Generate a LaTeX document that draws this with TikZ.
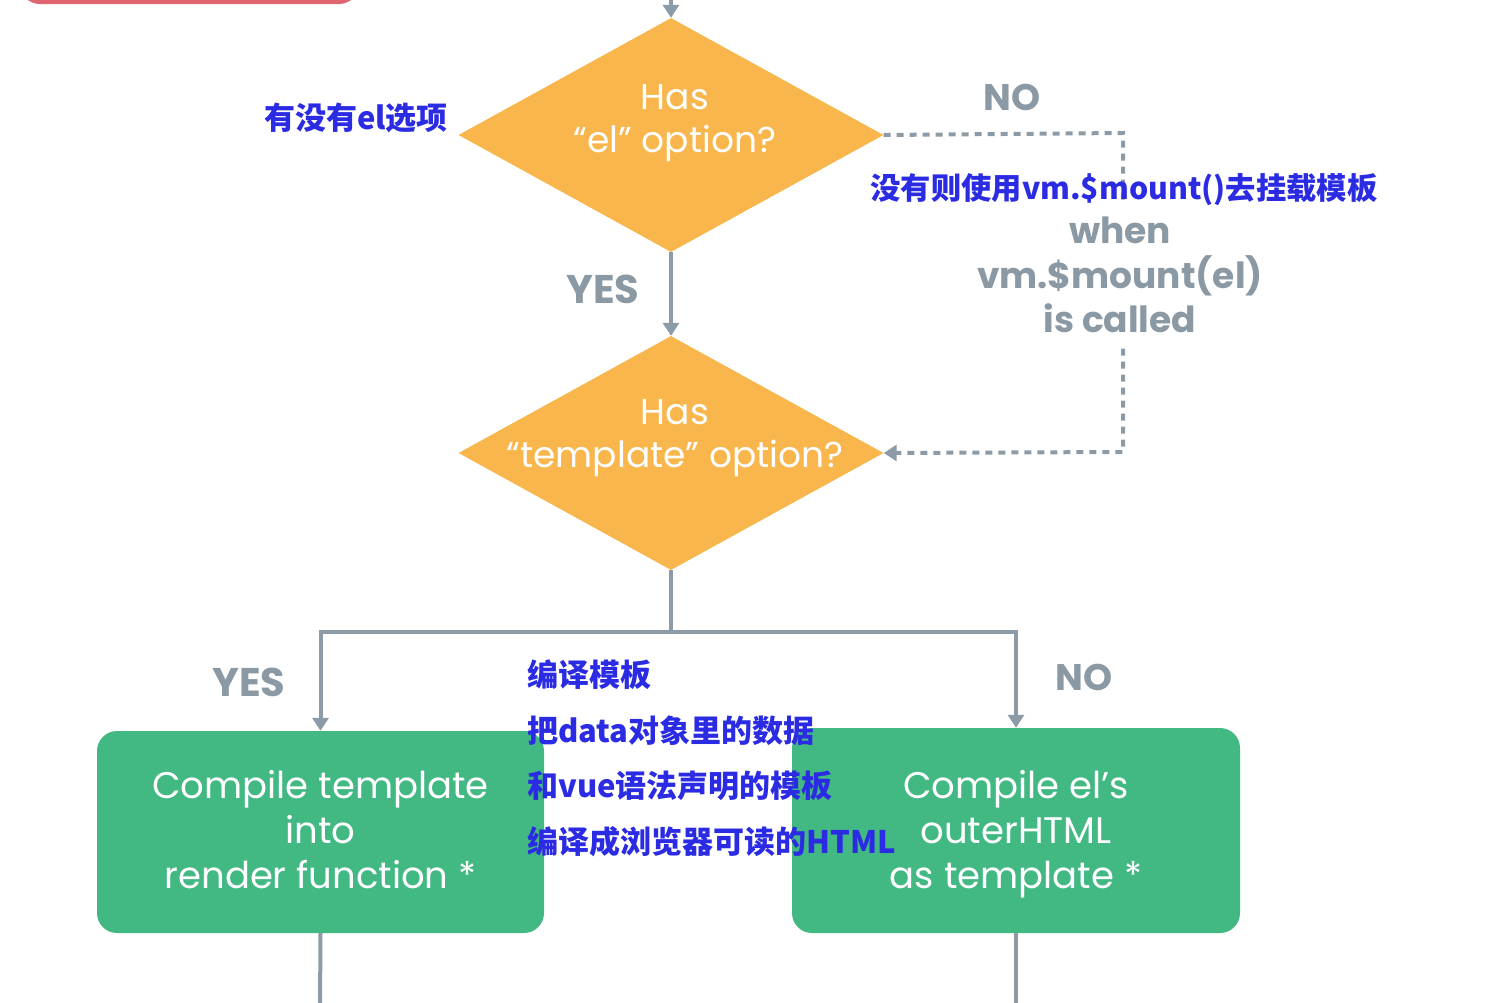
\documentclass[tikz,border=0pt]{standalone}
\usepackage{fontspec}
\setmainfont{Poppins}
\newfontfamily\cjk{Noto Sans CJK SC}
\usetikzlibrary{shapes.geometric,arrows.meta}
\definecolor{lineg}{HTML}{8C9BA6}
\definecolor{orng}{HTML}{F8B64C}
\definecolor{grn}{HTML}{42B883}
\definecolor{blu}{HTML}{2B2BE3}
\definecolor{redb}{HTML}{E06570}
\definecolor{lblg}{HTML}{8A99A4}
\begin{document}
\begin{tikzpicture}[x=1pt,y=-1pt,
 conn/.style={draw=lineg, line width=4pt, -{Triangle[width=16pt,length=13pt]}},
 plainline/.style={draw=lineg,line width=4pt},
 dashconn/.style={draw=lineg,line width=4pt,dash pattern=on 7pt off 6pt},
 decision/.style={diamond, fill=orng, shape aspect=1.816, minimum width=425pt, minimum height=234pt, inner sep=0pt},
 dtext/.style={text=white, font=\fontsize{36}{43}\selectfont, align=center, inner sep=0pt},
 process/.style={rectangle, rounded corners=20pt, fill=grn, text=white, font=\fontsize{37}{45}\selectfont, align=center, inner sep=0pt},
 glabel/.style={text=lblg, font=\bfseries\fontsize{36}{44.5}\selectfont, align=center, inner sep=0pt},
 note/.style={text=blu, font=\cjk\bfseries\fontsize{31}{36}\selectfont, inner sep=0pt},
]
\useasboundingbox (0,0) rectangle (1486,1002);

% partial start box
\node[draw=redb, line width=4pt, fill=white, rounded corners=18pt, minimum width=335pt, minimum height=60pt] (start) at (189.5,-28) {};

\coordinate (topin) at (671,-10);
\node[decision] (d1) at (671,135) {};
\node[decision] (d2) at (671,453) {};
\node[dtext] (t1) at (675,123.5) {Has\\“el” option?};
\node[dtext] (t2) at (675,438) {Has\\“template” option?};

\node[process, minimum width=447pt, minimum height=202pt] (b1) at (320.5,832) {};
\node[process, minimum width=448pt, minimum height=205pt] (b2) at (1016,830.5) {};
\node[process, fill=none] (bt1) at (320.5,830) {Compile template\\into\\render function *};
\node[process, fill=none] (bt2) at (1016,834.5) {Compile el’s\\outerHTML\\as template *};

\coordinate (split) at (671,632);
\coordinate (dr1) at (1123,133);
\coordinate (dr2) at (1123,452);
\coordinate (out1) at (320,1010);
\coordinate (out2) at (1016,1010);

\draw[conn] (topin) -- (d1.north);
\draw[conn] (d1.south) -- (d2.north);
\draw[dashconn, -{Triangle[width=16pt,length=13pt]}] (d1.east) -- (dr1) -- (dr2) -- (d2.east);
\draw[plainline] (d2.south) -- (split);
\draw[conn] (split) -| (b1.north);
\draw[conn] (split) -| (b2.north);
\draw[plainline] (b1.south) -- (out1);
\draw[plainline] (b2.south) -- (out2);

% gray labels
\node[glabel, font=\bfseries\fontsize{40}{44}\selectfont] (yes1) at (603,289) {YES};
\node[glabel, font=\bfseries\fontsize{37}{44}\selectfont] (no1) at (1012,97) {NO};
\node[glabel, font=\bfseries\fontsize{40}{44}\selectfont] (yes2) at (249,682) {YES};
\node[glabel, font=\bfseries\fontsize{37}{44}\selectfont] (no2) at (1084,677) {NO};
\node[glabel, fill=white, inner xsep=9pt, inner ysep=15pt] (when) at (1120,275) {when\\vm.\$mount(el)\\is called};

% blue notes
\node[note] (n1) at (356,118) {有没有el选项};
\node[note, font=\cjk\bfseries\fontsize{30.3}{36}\selectfont] (n2) at (1124,190) {没有则使用vm.\$mount()去挂载模板};
\node[note, anchor=west] (n3) at (527,675) {编译模板};
\node[note, anchor=west] (n4) at (527,731) {把data对象里的数据};
\node[note, anchor=west] (n5) at (527,786) {和vue语法声明的模板};
\node[note, anchor=west] (n6) at (527,842) {编译成浏览器可读的HTML};
\end{tikzpicture}
\end{document}
